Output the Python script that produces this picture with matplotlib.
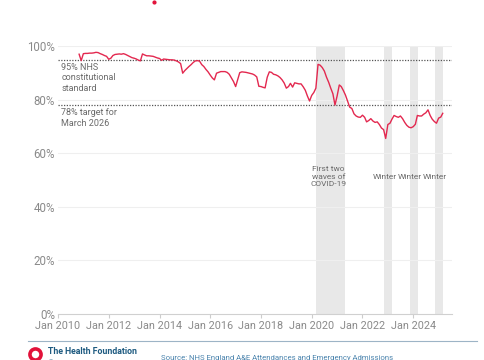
import numpy as np
import matplotlib
matplotlib.use("Agg")
import matplotlib.pyplot as plt
from matplotlib.lines import Line2D
from datetime import datetime
import pandas as pd

plt.rcParams['font.family'] = ['Roboto', 'DejaVu Sans']

# monthly % of A&E attendances seen within 4 hours, Nov 2010 - Mar 2025
start_month = "2010-11-01"
vals_2010 = [97.1, 94.7]
vals_2011 = [97.3, 97.4, 97.4, 97.5, 97.5, 97.6, 97.8, 97.7, 97.3, 97.0, 96.6, 96.3]
vals_2012 = [95.2, 95.6, 96.6, 97.0, 97.1, 97.2, 97.1, 97.3, 97.0, 96.6, 96.2, 95.8]
vals_2013 = [95.6, 95.3, 94.9, 94.6, 97.2, 96.8, 96.5, 96.5, 96.4, 96.3, 96.0, 95.7]
vals_2014 = [95.5, 94.8, 95.3, 95.2, 95.1, 95.0, 95.0, 94.9, 94.6, 94.2, 93.6, 90.0]
vals_2015 = [91.0, 91.8, 92.5, 93.2, 94.0, 94.6, 94.7, 94.5, 93.2, 92.5, 91.4, 90.5]
vals_2016 = [89.3, 88.2, 87.5, 90.0, 90.3, 90.6, 90.6, 90.6, 90.3, 89.6, 88.2, 86.9]
vals_2017 = [85.0, 87.8, 90.2, 90.5, 90.4, 90.3, 90.1, 89.9, 89.7, 89.3, 88.6, 85.1]
vals_2018 = [85.0, 84.7, 84.5, 88.5, 90.5, 90.3, 89.6, 89.4, 89.0, 88.4, 87.5, 86.3]
vals_2019 = [84.4, 85.0, 86.2, 84.8, 86.4, 86.2, 86.0, 86.0, 84.9, 83.6, 81.4, 79.6]
vals_2020 = [81.7, 82.8, 84.4, 93.3, 93.0, 92.1, 90.8, 88.5, 86.6, 84.4, 82.3, 78.1]
vals_2021 = [81.5, 85.6, 85.0, 83.5, 81.8, 79.5, 77.3, 76.8, 74.8, 74.0, 73.6, 73.5]
vals_2022 = [74.3, 73.5, 71.8, 72.3, 73.0, 72.1, 71.6, 71.8, 70.8, 69.5, 68.9, 65.6]
vals_2023 = [70.8, 71.3, 72.8, 74.2, 73.8, 73.5, 74.0, 73.0, 71.6, 70.5, 69.8, 69.6]
vals_2024 = [70.0, 70.9, 74.2, 74.0, 74.0, 74.7, 75.2, 76.3, 74.2, 72.8, 71.9, 71.3]
vals_2025 = [73.2, 73.6, 75.0]

values = (vals_2010 + vals_2011 + vals_2012 + vals_2013 + vals_2014 + vals_2015 +
          vals_2016 + vals_2017 + vals_2018 + vals_2019 + vals_2020 + vals_2021 +
          vals_2022 + vals_2023 + vals_2024 + vals_2025)
dates = pd.date_range(start_month, periods=len(values), freq="MS")

# shaded periods
shade_starts = ["2020-03-01", "2022-11-10", "2023-11-10", "2024-11-10"]
shade_ends = ["2021-05-01", "2023-03-05", "2024-03-10", "2025-03-05"]
shade_labels = ["First two\nwaves of\nCOVID-19", "Winter", "Winter", "Winter"]
shade_label_x = ["2020-09-01", "2022-11-20", "2023-11-15", "2024-11-01"]

targets = [95, 78]
target_labels = ["95% NHS\nconstitutional\nstandard", "78% target for\nMarch 2026"]

yticks = [0, 20, 40, 60, 80, 100]
xtick_years = [2010, 2012, 2014, 2016, 2018, 2020, 2022, 2024]

RED = "#e3284f"
GREY_TXT = "#8a8a8a"
NOTE = "#6a6a6a"

fig = plt.figure(figsize=(4.85, 3.6), dpi=100)
ax = fig.add_axes([0.1196, 0.128, 0.812, 0.743])

for s, e in zip(shade_starts, shade_ends):
    ax.axvspan(pd.Timestamp(s), pd.Timestamp(e), color="#e8e8e8", lw=0, zorder=0)

for y in yticks[1:]:
    ax.axhline(y, color="#efefef", lw=0.8, zorder=0.5)

for t in targets:
    ax.axhline(t, color="#555555", lw=0.9, ls=(0, (1, 1.2)), zorder=1)

ax.plot(dates, values, color=RED, lw=1.0, zorder=3)

ax.set_ylim(0, 100)
ax.set_xlim(datetime(2010, 1, 1), datetime(2025, 7, 10))
ax.set_yticks(yticks)
ax.set_yticklabels([f"{y}%" for y in yticks])
ax.set_xticks([datetime(y, 1, 1) for y in xtick_years])
ax.set_xticklabels([f"Jan {y}" for y in xtick_years])
ax.tick_params(axis="y", length=0, pad=2, labelsize=8.3, labelcolor=GREY_TXT)
ax.tick_params(axis="x", length=3, color="#cccccc", pad=1.8, labelsize=7.8, labelcolor=GREY_TXT)
for side in ["top", "right", "left"]:
    ax.spines[side].set_visible(False)
ax.spines["bottom"].set_color("#d0d0d0")

ax.text(datetime(2010, 2, 20), 93.8, target_labels[0], fontsize=6.5, color=NOTE,
        va="top", ha="left", linespacing=1.2)
ax.text(datetime(2010, 2, 20), 76.8, target_labels[1], fontsize=6.5, color=NOTE,
        va="top", ha="left", linespacing=1.2)

for lab, xs in zip(shade_labels, shade_label_x):
    ax.text(pd.Timestamp(xs), 51.3, lab, fontsize=6.0, color=NOTE,
            ha="center", va="center", linespacing=1.3)

# footer
fig.add_artist(Line2D([28 / 485, 477 / 485], [1 - 341 / 360] * 2,
                      transform=fig.transFigure, color="#9db4c6", lw=0.8))
fig.add_artist(Line2D([35 / 485], [1 - 354 / 360], transform=fig.transFigure,
                      marker="o", markersize=8, mfc="none", mec="#e2123a", mew=2.6))
fig.text(48 / 485, 1 - 352 / 360, "The Health Foundation", fontsize=6.3, weight="bold",
         color="#1d5a80", va="center", ha="left")
fig.text(48 / 485, 1 - 363 / 360, "\u00a9 2025", fontsize=5.6, color="#1d5a80",
         va="center", ha="left")
fig.text(161 / 485, 1 - 358 / 360, "Source: NHS England A&E Attendances and Emergency Admissions",
         fontsize=5.6, color="#4a83ad", va="center", ha="left")
fig.add_artist(Line2D([154 / 485], [1 - 2 / 360], transform=fig.transFigure,
                      marker="o", markersize=2, color="#e2123a", lw=0))

fig.savefig("out.png", dpi=100)
